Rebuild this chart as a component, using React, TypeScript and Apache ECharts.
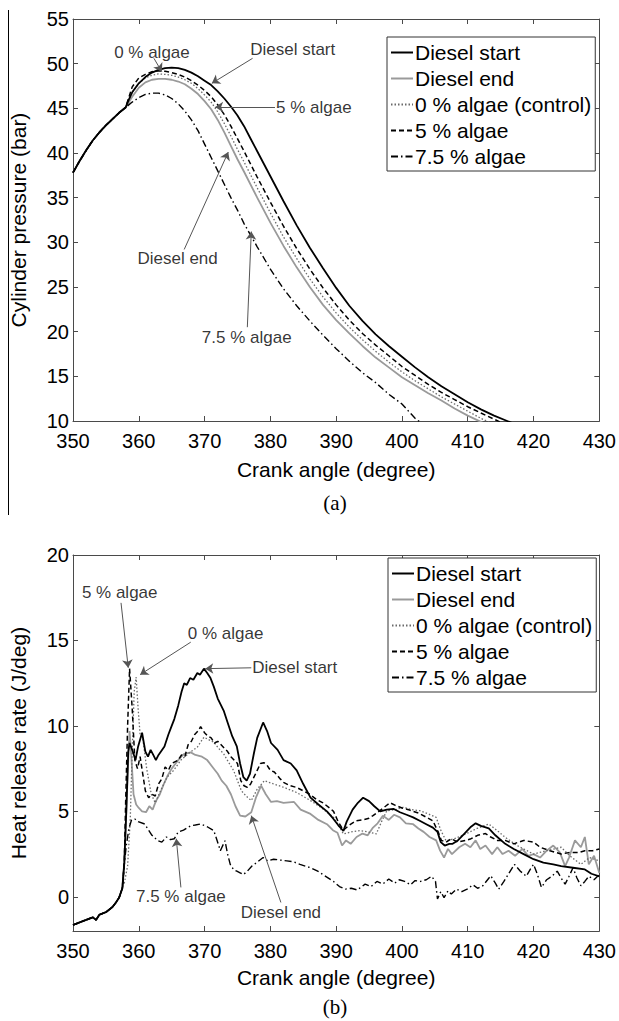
import React, { useEffect, useRef } from "react";
import * as echarts from "echarts";

type Pt = [number, number];

// ---------- (a) Cylinder pressure (bar) vs crank angle ----------
const P_COMMON: Pt[] = [[350,37.8],[351,39.1],[352,40.3],[353,41.4],[354,42.3],[355,43.1],[356,43.8],[357,44.5],[358,45.1]];
const P_DIESEL_START: Pt[] = [...P_COMMON,[358.5,46.0],[359,46.8],[360,47.8],[361,48.5],[362,49.0],[363,49.3],[364,49.5],[365,49.55],[366,49.5],[367,49.3],[368,49.0],[369,48.6],[370,48.1],[371,47.6],[372,46.9],[373,46.1],[374,45.2],[375,44.2],[376,43.0],[377,41.6],[378,40.2],[379,38.8],[380,37.4],[382,34.6],[384,31.9],[386,29.4],[388,27.1],[390,24.9],[392,22.9],[394,21.2],[396,19.7],[398,18.4],[400,17.2],[402,16.0],[404,14.9],[406,13.9],[408,13.0],[410,12.1],[412,11.3],[414,10.6],[416,10.0],[418,9.4]];
const P_DIESEL_END: Pt[] = [...P_COMMON,[359,46.3],[360,47.3],[361,47.9],[362,48.2],[363,48.3],[364,48.3],[365,48.2],[366,48.0],[367,47.7],[368,47.2],[369,46.6],[370,45.8],[371,44.9],[372,43.7],[373,42.3],[374,40.8],[375,39.3],[376,37.9],[378,35.0],[380,32.2],[382,29.6],[384,27.2],[386,25.0],[388,23.0],[390,21.3],[392,19.8],[394,18.4],[396,17.1],[398,16.0],[400,14.9],[402,14.0],[404,13.1],[406,12.3],[408,11.4],[410,10.6],[412,9.9],[414,9.3]];
const P_ALGAE_0: Pt[] = [...P_COMMON,[359,46.8],[360,47.8],[361,48.4],[362,48.7],[363,48.85],[364,48.8],[365,48.7],[366,48.5],[367,48.2],[368,47.8],[369,47.2],[370,46.5],[371,45.7],[372,44.6],[373,43.3],[374,41.9],[375,40.4],[376,39.0],[378,36.1],[380,33.3],[382,30.6],[384,28.2],[386,25.9],[388,23.9],[390,22.1],[392,20.5],[394,19.1],[396,17.8],[398,16.6],[400,15.5],[402,14.5],[404,13.6],[406,12.7],[408,11.9],[410,11.1],[412,10.3],[414,9.6]];
const P_ALGAE_5: Pt[] = [...P_COMMON,[359,47.4],[360,48.4],[361,48.8],[362,49.1],[363,49.2],[364,49.15],[365,49.0],[366,48.8],[367,48.5],[368,48.1],[369,47.6],[370,47.0],[371,46.3],[372,45.4],[373,44.3],[374,43.0],[375,41.6],[376,40.2],[378,37.3],[380,34.5],[382,31.8],[384,29.3],[386,27.0],[388,24.9],[390,23.0],[392,21.3],[394,19.8],[396,18.5],[398,17.3],[400,16.1],[402,15.1],[404,14.1],[406,13.2],[408,12.4],[410,11.6],[412,10.9],[414,10.2],[416,9.5]];
const P_ALGAE_75: Pt[] = [...P_COMMON,[359,45.7],[360,46.2],[361,46.55],[362,46.7],[363,46.7],[364,46.5],[365,46.1],[366,45.5],[367,44.7],[368,43.7],[369,42.5],[370,41.0],[371,39.5],[372,38.0],[373,36.5],[374,35.0],[375,33.6],[376,32.1],[377,30.8],[378,29.5],[380,27.0],[382,24.8],[384,22.9],[386,21.2],[388,19.6],[390,18.1],[392,16.7],[394,15.4],[396,14.3],[398,13.0],[400,11.9],[402,10.3],[404,9.2]];

// ---------- (b) Heat release rate (J/deg) vs crank angle ----------
const H_COMMON: Pt[] = [[350,-1.65],[351,-1.5],[352,-1.35],[353,-1.2],[353.5,-1.35],[354,-1.05],[355,-0.9],[356,-0.6],[356.5,-0.35],[357,-0.05],[357.5,0.5]];
const H_DIESEL_START: Pt[] = [...H_COMMON,[357.8,2.0],[358.1,5.0],[358.4,8.5],[358.6,9.0],[359,8.6],[359.5,8.0],[359.9,8.8],[360.5,9.6],[361,8.5],[361.4,8.2],[361.8,8.6],[362.2,8.3],[362.6,8.0],[363,8.3],[363.9,8.8],[364.5,9.5],[365,10.0],[365.4,10.4],[366,11.2],[366.5,12.0],[366.9,12.5],[367.3,12.4],[367.8,12.8],[368.3,12.7],[368.9,13.1],[369.3,13.0],[369.9,13.35],[370.4,13.1],[370.9,12.8],[371.4,12.3],[372,11.6],[372.9,10.9],[373.5,10.2],[374.2,9.4],[374.9,8.8],[375.4,7.8],[375.9,7.0],[376.4,6.8],[376.9,7.2],[377.5,8.4],[378,9.3],[378.9,10.2],[379.5,9.7],[380.1,9.0],[381.1,8.6],[382,8.0],[383.1,7.8],[384,7.4],[385,6.6],[386.1,5.8],[387.3,5.4],[388.6,5.0],[389.5,4.6],[390.3,4.2],[391.1,3.85],[391.6,4.4],[392.5,5.1],[393.3,5.5],[394.1,5.8],[395,5.6],[395.8,5.3],[396.7,5.0],[397.7,5.1],[398.7,5.15],[399.7,4.95],[400.7,4.8],[401.7,4.65],[402.7,4.45],[403.7,4.25],[404.7,4.05],[405.4,3.8],[405.9,3.2],[406.5,3.0],[407.2,3.1],[407.7,3.1],[408.5,3.3],[409.5,3.7],[410.5,4.1],[411.2,4.3],[412,4.15],[413.2,4.0],[414.2,3.6],[415.7,3.1],[417,2.8],[418.5,2.5],[420,2.2],[421.5,2.0],[423,1.9],[424.2,1.8],[426,1.7],[427.8,1.6],[428.8,1.35],[430,1.2]];
const H_DIESEL_END: Pt[] = [...H_COMMON,[357.8,2.0],[358.1,5.0],[358.4,8.0],[358.6,9.7],[358.9,8.0],[359.2,6.0],[359.6,5.4],[360,5.2],[360.5,5.0],[361.1,4.95],[361.6,5.3],[362.1,5.1],[362.6,5.6],[363.2,6.0],[363.8,6.6],[364.4,7.1],[365,7.5],[365.6,7.8],[366.2,8.1],[366.9,8.37],[367.9,8.45],[368.6,8.3],[369.6,8.2],[370.4,8.0],[371.2,7.6],[372,7.2],[372.6,6.8],[373.3,6.5],[374,6.0],[374.7,5.3],[375.4,4.75],[376.2,4.7],[377.1,4.95],[377.8,5.8],[378.6,6.5],[379.3,6.0],[380.1,5.55],[381,5.6],[382,5.5],[383.6,5.55],[384.6,5.1],[386.1,4.85],[387.3,4.5],[388.6,4.25],[389.5,3.9],[390.2,3.75],[390.9,3.0],[391.5,3.3],[392.2,3.1],[393.1,3.5],[394,3.7],[394.8,3.6],[395.6,4.05],[396.3,4.3],[397.1,4.75],[398,4.5],[398.8,4.8],[399.7,4.65],[400.6,4.3],[401.7,4.25],[402.5,4.0],[403.3,3.8],[404.2,3.5],[405.2,3.3],[405.8,2.7],[406.4,2.3],[407,2.8],[407.6,2.5],[408.7,2.9],[409.6,3.1],[410.4,2.9],[411.2,3.3],[411.9,2.8],[412.7,3.0],[413.7,2.5],[414.5,2.9],[415.3,2.5],[416.2,2.7],[417.2,2.4],[418.3,2.8],[419.2,2.4],[420,2.5],[421,2.3],[422,2.7],[423,3.0],[424,2.6],[424.8,1.8],[425.4,2.3],[426.3,3.3],[427.2,2.9],[427.8,3.5],[428.4,1.9],[429.2,2.4],[430,1.4]];
const H_ALGAE_0: Pt[] = [...H_COMMON,[357.8,0.8],[358.3,1.8],[358.7,4.5],[359,8.5],[359.3,12.0],[359.6,12.85],[359.9,11.0],[360.2,9.5],[360.6,9.3],[361.2,7.5],[361.9,6.0],[362.5,5.5],[363.3,6.2],[364.3,7.0],[365.3,7.4],[366.4,8.0],[367.6,8.4],[368.9,8.76],[369.9,9.34],[370.6,9.2],[371.4,9.05],[372.1,8.7],[372.9,8.37],[373.6,7.9],[374.4,7.4],[375.1,6.7],[375.6,6.2],[376.3,5.9],[377.1,5.63],[378,6.3],[379.1,6.8],[380.5,6.6],[382.1,6.4],[384,6.1],[386.1,5.63],[387.8,5.2],[389.6,4.65],[390.5,4.1],[391.1,3.68],[392.3,3.8],[393.6,3.87],[394.8,3.8],[396.1,3.68],[396.9,4.4],[397.7,5.04],[399,5.1],[400.2,5.24],[401.5,5.1],[402.7,5.04],[404,4.85],[405.2,4.65],[405.9,3.9],[406.7,3.28],[408,3.4],[409.7,3.68],[411.4,4.0],[413.2,4.26],[414.4,3.9],[415.7,3.48],[417.5,3.0],[419,2.7],[420,2.5],[422,2.7],[424.2,2.9],[425.5,2.4],[427.2,1.9],[428.5,2.3],[430,2.1]];
const H_ALGAE_5: Pt[] = [...H_COMMON,[357.8,2.0],[358,5.5],[358.3,10.0],[358.6,13.35],[359,11.0],[359.4,8.0],[359.8,7.5],[360.2,8.2],[360.6,7.2],[361,6.2],[361.5,5.8],[362,6.0],[362.5,5.9],[363,6.6],[363.5,6.9],[364,7.6],[364.5,7.4],[365,7.8],[366,8.0],[366.5,8.3],[367,8.2],[367.5,8.9],[368,9.1],[368.5,9.5],[369,9.7],[369.4,9.95],[370,9.6],[370.5,9.4],[371,9.3],[371.5,9.0],[372,9.1],[373,8.7],[373.5,8.5],[374,8.2],[375,7.8],[375.5,6.8],[376,6.5],[376.5,6.4],[377,6.6],[377.5,7.0],[378,7.4],[378.5,7.8],[379,7.85],[379.5,7.7],[380,7.4],[380.6,7.3],[381.5,6.9],[382,6.7],[383,6.5],[384,6.4],[385,6.2],[386,6.0],[387,5.7],[388,5.5],[389,5.2],[389.6,5.0],[390.3,4.4],[391.1,3.9],[392,4.2],[393,4.45],[394,4.5],[395,4.6],[395.6,4.75],[396.5,5.0],[397.5,5.3],[398.2,5.5],[399,5.35],[400,5.2],[401,5.1],[401.7,5.0],[402.5,4.9],[403.5,4.7],[404.7,4.45],[405.5,3.8],[406,3.3],[406.7,3.2],[407.5,3.4],[408.5,3.2],[409.7,3.3],[410.5,3.4],[411.5,3.6],[412.7,3.7],[413.5,3.5],[414.5,3.3],[415.7,3.3],[417,3.1],[418.5,3.3],[420,3.2],[421,2.9],[422.5,2.7],[424.2,2.5],[425.5,2.6],[427,2.6],[427.8,2.7],[429,2.7],[430,2.8]];
const H_ALGAE_75: Pt[] = [...H_COMMON,[357.8,1.9],[358.1,3.0],[358.5,4.0],[358.9,4.5],[359.4,4.55],[359.9,4.4],[360.9,4.26],[361.5,3.9],[362,3.6],[362.9,3.28],[363.5,3.2],[364.2,3.5],[364.8,3.35],[365.4,3.4],[366,3.8],[366.8,3.9],[367.9,4.16],[368.6,4.2],[369.4,4.26],[370.4,4.1],[371.4,3.87],[371.9,3.3],[372.4,2.7],[373.1,3.28],[373.5,2.5],[373.9,1.9],[374.4,1.6],[374.9,1.5],[375.4,1.4],[375.9,1.3],[376.5,1.5],[377.2,1.8],[377.9,2.0],[378.9,2.3],[379.6,2.1],[380.5,2.2],[381.5,2.15],[382.5,2.1],[383.5,2.05],[384.5,1.9],[385.3,1.8],[386.1,1.7],[387.2,1.5],[388.4,1.2],[389.6,0.9],[390.5,0.6],[391.4,0.45],[392.3,0.5],[393.2,0.4],[394.4,0.74],[395.3,0.6],[396.2,0.9],[397.1,0.75],[398,1.04],[398.9,0.8],[399.6,1.0],[400.4,0.9],[401.3,0.7],[402,0.95],[402.8,0.9],[403.7,1.0],[404.5,1.2],[405.1,0.9],[405.4,-0.13],[405.9,0.3],[406.4,-0.05],[407,0.35],[407.5,0.16],[408.3,0.45],[409.1,0.3],[409.9,0.45],[410.8,0.7],[411.5,0.5],[412.3,0.65],[413.5,1.23],[414.2,0.8],[414.7,0.45],[415.5,0.9],[416.3,1.4],[417.1,1.9],[418,1.5],[418.9,1.2],[419.5,1.6],[420,1.9],[420.6,1.3],[421.2,0.55],[422,1.0],[422.8,1.2],[423.6,1.5],[424.2,1.1],[424.8,0.74],[425.4,1.2],[426,1.7],[426.6,1.1],[427.2,0.65],[427.8,0.9],[428.4,1.2],[429.2,1.0],[430,1.3]];

// ---------- labels ----------
const SERIES_NAMES = ["Diesel start", "Diesel end", "0 % algae (control)", "5 % algae", "7.5 % algae"];
const X_TICKS = { min: 350, max: 430, step: 10 };
const P_TICKS = { min: 10, max: 55, step: 5 };
const H_TICKS = [0, 5, 10, 15, 20];
const H_RANGE = { min: -2, max: 20 };

// annotations: [text, textX, textY, lineStartX, lineStartY, tipX, tipY]
const P_NOTES: [string, number, number, number, number, number, number][] = [
  ["0 % algae", 362, 51.3, 362.3, 50.6, 363.5, 49.1],
  ["Diesel start", 383.4, 51.6, 377.3, 50.6, 371.1, 47.8],
  ["5 % algae", 386.6, 45.1, 380.7, 45.15, 371.6, 45.15],
  ["Diesel end", 365.9, 28.2, 366.9, 29.2, 373.6, 40.1],
  ["7.5 % algae", 376.4, 19.3, 376.5, 20.5, 377.1, 31.2],
];
const H_NOTES: [string, number, number, number, number, number, number][] = [
  ["5 % algae", 357.1, 17.8, 357.3, 17.2, 358.4, 13.4],
  ["0 % algae", 373.2, 15.4, 367.9, 14.9, 360.2, 13.0],
  ["Diesel start", 383.7, 13.4, 377.1, 13.4, 370.1, 13.35],
  ["7.5 % algae", 366.4, 0.0, 366.4, 0.55, 365.7, 3.4],
  ["Diesel end", 381.6, -0.92, 381.6, -0.33, 377.1, 4.75],
];

const FONT = "'Liberation Sans', Arial, Helvetica, sans-serif";
const SERIF = "'Liberation Serif', 'Times New Roman', serif";

const STYLES = [
  { color: "#000000", width: 1.8, type: "solid" as any },
  { color: "#9a9a9a", width: 1.8, type: "solid" as any },
  { color: "#6a6a6a", width: 1.3, type: [1.5, 2] as any },
  { color: "#000000", width: 1.5, type: [5, 3] as any },
  { color: "#000000", width: 1.4, type: [7, 3, 1.5, 3] as any },
];

export default function App() {
  const ref = useRef<HTMLDivElement>(null);
  useEffect(() => {
    document.body.style.margin = "0";
    if (!ref.current) return;
    const chart = echarts.init(ref.current, undefined, { renderer: "svg" });

    const axisLineStyle = { color: "#4a4a4a", width: 1 };
    const makeX = (gi: number, bottom: boolean, nameGap: number) => ({
      type: "value",
      gridIndex: gi,
      position: bottom ? "bottom" : "top",
      min: X_TICKS.min,
      max: X_TICKS.max,
      interval: X_TICKS.step,
      axisLine: { show: true, lineStyle: axisLineStyle, onZero: false },
      axisTick: { show: true, inside: true, length: 5, lineStyle: axisLineStyle },
      axisLabel: { show: bottom, fontSize: 20, margin: 10, color: "#000", fontFamily: FONT },
      splitLine: { show: false },
      name: bottom ? "Crank angle (degree)" : "",
      nameLocation: "middle",
      nameGap,
      nameTextStyle: { fontSize: 21, color: "#000", fontFamily: FONT },
    });
    const makeYP = (left: boolean) => ({
      type: "value",
      gridIndex: 0,
      position: left ? "left" : "right",
      min: P_TICKS.min,
      max: P_TICKS.max,
      interval: P_TICKS.step,
      axisLine: { show: true, lineStyle: axisLineStyle, onZero: false },
      axisTick: { show: true, inside: true, length: 5, lineStyle: axisLineStyle },
      axisLabel: { show: left, fontSize: 20, margin: 4, color: "#000", fontFamily: FONT },
      splitLine: { show: false },
      name: left ? "Cylinder pressure (bar)" : "",
      nameLocation: "middle",
      nameGap: 44,
      nameTextStyle: { fontSize: 21, color: "#000", fontFamily: FONT },
    });
    const makeYH = (left: boolean) => ({
      type: "value",
      gridIndex: 1,
      position: left ? "left" : "right",
      min: H_RANGE.min,
      max: H_RANGE.max,
      axisLine: { show: true, lineStyle: axisLineStyle, onZero: false },
      axisTick: { show: true, inside: true, length: 5, lineStyle: axisLineStyle, customValues: H_TICKS },
      axisLabel: { show: left, fontSize: 20, margin: 4, color: "#000", fontFamily: FONT, customValues: H_TICKS },
      splitLine: { show: false },
      name: left ? "Heat release rate (J/deg)" : "",
      nameLocation: "middle",
      nameGap: 44,
      nameTextStyle: { fontSize: 21, color: "#000", fontFamily: FONT },
    });

    const pData = [P_DIESEL_START, P_DIESEL_END, P_ALGAE_0, P_ALGAE_5, P_ALGAE_75];
    const hData = [H_DIESEL_START, H_DIESEL_END, H_ALGAE_0, H_ALGAE_5, H_ALGAE_75];
    const order = [1, 2, 4, 3, 0];

    const lineSeries = (data: Pt[][], xi: number, yi: number) =>
      order.map((i) => ({
        type: "line",
        name: SERIES_NAMES[i],
        xAxisIndex: xi,
        yAxisIndex: yi,
        data: data[i],
        symbol: "none",
        showSymbol: false,
        smooth: false,
        lineStyle: { color: STYLES[i].color, width: STYLES[i].width, type: STYLES[i].type },
        itemStyle: { color: STYLES[i].color },
        silent: true,
        z: 2,
      }));

    const noteSeries = (notes: typeof P_NOTES, xi: number, yi: number) => [
      {
        type: "scatter",
        name: "notes",
        xAxisIndex: xi,
        yAxisIndex: yi,
        symbolSize: 1,
        itemStyle: { color: "rgba(0,0,0,0)" },
        silent: true,
        z: 5,
        label: {
          show: true,
          position: "inside",
          formatter: "{b}",
          fontSize: 17,
          color: "#000",
          textBorderWidth: 0,
          fontFamily: FONT,
        },
        data: notes.map((n) => ({ name: n[0], value: [n[1], n[2]] })),
        markLine: {
          silent: true,
          symbol: ["none", "arrow"],
          symbolSize: 8,
          label: { show: false },
          lineStyle: { color: "#555", width: 1, type: "solid" },
          itemStyle: { color: "#111" },
          emphasis: { disabled: true },
          data: notes.map((n) => [
            { coord: [n[3], n[4]] },
            { coord: [n[5], n[6]] },
          ]),
        },
      },
    ];

    const legendBase = {
      orient: "vertical",
      data: SERIES_NAMES,
      itemWidth: 22,
      itemHeight: 14,
      itemGap: 5,
      backgroundColor: "#fff",
      borderColor: "#333",
      borderWidth: 1,
      borderRadius: 0,
      padding: [5, 4, 4, 3],
      selectedMode: false,
      itemStyle: { opacity: 0 },
      textStyle: { fontSize: 21, color: "#000", fontFamily: FONT, padding: [0, 0, 0, -3] },
    };

    const option: any = {
      animation: false,
      backgroundColor: "#fff",
      grid: [
        { left: 69.4, top: 19, width: 532.6, height: 402 },
        { left: 69.4, top: 555, width: 532.6, height: 376 },
      ],
      xAxis: [makeX(0, true, 38), makeX(0, false, 0), makeX(1, true, 36), makeX(1, false, 0)],
      yAxis: [makeYP(true), makeYP(false), makeYH(true), makeYH(false)],
      legend: [
        { ...legendBase, left: 387, top: 37 },
        { ...legendBase, left: 388, top: 558 },
      ],
      series: [
        ...lineSeries(pData, 0, 0),
        ...lineSeries(hData, 2, 2),
        ...noteSeries(P_NOTES, 0, 0),
        ...noteSeries(H_NOTES, 2, 2),
      ],
      graphic: [
        { type: "line", shape: { x1: 8.5, y1: 10, x2: 8.5, y2: 515 }, style: { stroke: "#000", lineWidth: 1 }, silent: true },
        { type: "text", x: 335, y: 503, style: { text: "(a)", fontSize: 21, fontFamily: SERIF, fill: "#000", textAlign: "center", textVerticalAlign: "middle" }, silent: true },
        { type: "text", x: 335, y: 1007, style: { text: "(b)", fontSize: 21, fontFamily: SERIF, fill: "#000", textAlign: "center", textVerticalAlign: "middle" }, silent: true },
      ],
    };
    chart.setOption(option);
    return () => chart.dispose();
  }, []);
  return <div ref={ref} style={{ width: 619, height: 1021 }} />;
}
